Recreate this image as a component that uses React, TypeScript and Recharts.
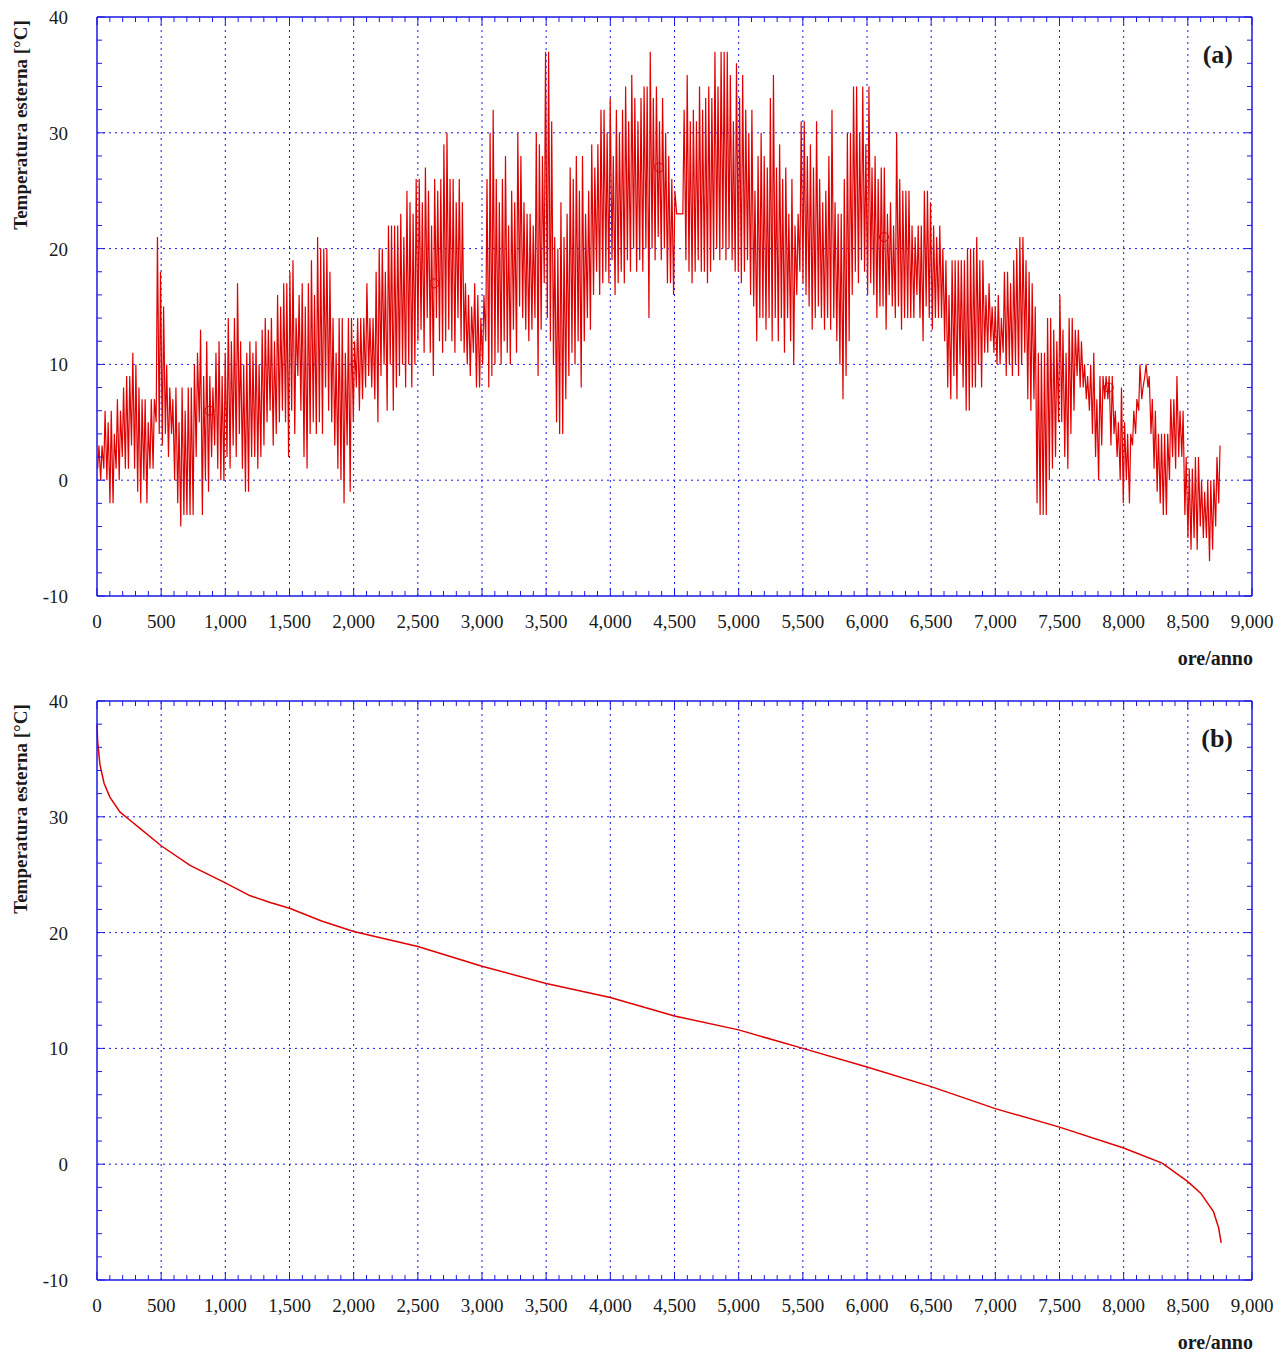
import { ComposedChart, Line, Scatter, XAxis, YAxis, ReferenceLine } from 'recharts';

const BLUE = '#1a1ae6';
const RED = '#e00000';
const SERIF = "'Liberation Serif', 'Times New Roman', serif";
const INK = '#1a1a1a';

// daily max / min outdoor temperature (°C)
const janMax = [3, 3, 6, 5, 6, 4, 7, 6, 8, 9, 9, 11, 10, 8, 7, 7, 5, 7, 7, 21, 18, 15, 10, 8, 7, 8, 5, 8, 6, 8, 8];
const janMin = [1, 0, 1, 0, -2, -2, 1, 0, 2, 1, 1, 3, 1, -1, -2, 0, -2, 1, 1, 5, 4, 3, 4, 2, 4, 0, -2, -4, -3, -3, -3];
const febMax = [10, 11, 13, 9, 12, 9, 8, 11, 12, 9, 11, 14, 12, 14, 17, 12, 10, 11, 12, 11, 12, 10, 13, 14, 13, 14, 12, 16];
const febMin = [-3, 2, 5, -3, 0, -1, 2, 3, 1, 0, 0, 2, 1, 3, 2, 4, 1, -1, -1, 2, 2, 1, 2, 3, 5, 6, 3, 4];
const marMax = [15, 17, 17, 18, 19, 14, 16, 17, 15, 17, 19, 16, 21, 20, 20, 20, 18, 14, 11, 14, 14, 11, 14, 14, 12, 14, 14, 14, 17, 14, 14];
const marMin = [5, 6, 5, 2, 6, 4, 9, 6, 2, 1, 4, 5, 4, 5, 4, 8, 6, 5, 3, 1, 0, -2, 3, -1, 5, 8, 6, 7, 8, 9, 8];
const aprMax = [18, 20, 20, 18, 22, 22, 22, 22, 23, 21, 25, 24, 23, 26, 26, 24, 27, 25, 22, 26, 25, 26, 29, 30, 26, 26, 24, 26, 24, 17];
const aprMin = [7, 5, 9, 10, 6, 10, 6, 8, 9, 10, 8, 10, 8, 10, 12, 13, 11, 14, 11, 9, 14, 12, 11, 12, 13, 12, 11, 14, 12, 11];
const mayMax = [16, 15, 17, 16, 14, 16, 26, 30, 32, 26, 24, 26, 28, 22, 25, 24, 30, 28, 24, 23, 23, 22, 30, 29, 28, 37, 37, 31, 21, 20, 24];
const mayMin = [10, 9, 11, 8, 8, 10, 12, 8, 9, 10, 11, 10, 12, 11, 10, 13, 11, 15, 14, 13, 12, 13, 14, 9, 13, 17, 14, 12, 10, 5, 4];
const junMax = [21, 23, 27, 26, 28, 25, 28, 23, 25, 29, 27, 29, 32, 32, 30, 33, 28, 32, 30, 32, 34, 31, 35, 33, 31, 33, 34, 34, 37, 33];
const junMin = [4, 7, 9, 11, 10, 12, 8, 12, 14, 13, 16, 18, 16, 17, 18, 17, 19, 16, 17, 18, 17, 19, 18, 20, 18, 19, 18, 20, 14, 20];
const julMax = [34, 31, 33, 30, 28, 26, 25, 23, 23, 32, 35, 31, 32, 31, 34, 32, 33, 34, 33, 37, 34, 37, 37, 37, 35, 31, 36, 33, 35, 32, 30];
const julMin = [19, 21, 19, 20, 17, 17, 16, 23, 23, 23, 19, 18, 17, 18, 19, 18, 18, 17, 18, 19, 20, 19, 20, 19, 20, 19, 18, 18, 17, 18, 19];
const augMax = [32, 25, 28, 30, 28, 27, 33, 35, 27, 29, 26, 27, 23, 26, 22, 23, 31, 31, 28, 29, 27, 31, 26, 24, 25, 28, 32, 24, 23, 23, 26];
const augMin = [16, 15, 12, 14, 14, 13, 14, 12, 14, 12, 14, 11, 14, 12, 10, 16, 18, 17, 16, 15, 13, 14, 15, 14, 13, 14, 13, 14, 12, 10, 7];
const sepMax = [30, 30, 34, 34, 30, 34, 29, 34, 27, 28, 26, 27, 27, 23, 24, 22, 30, 26, 25, 25, 25, 22, 21, 22, 22, 25, 25, 24, 22, 21];
const sepMin = [9, 12, 16, 18, 17, 19, 18, 16, 17, 16, 14, 15, 15, 13, 16, 15, 14, 15, 13, 14, 14, 14, 14, 16, 14, 12, 15, 14, 13, 14];
const octMax = [22, 20, 19, 16, 19, 19, 19, 19, 19, 20, 20, 20, 21, 19, 19, 16, 17, 15, 15, 16, 14, 18, 18, 17, 19, 20, 21, 21, 19, 18, 17];
const octMin = [14, 14, 12, 8, 7, 9, 7, 10, 8, 6, 6, 8, 8, 10, 8, 11, 11, 12, 11, 10, 10, 11, 9, 10, 9, 10, 9, 10, 11, 7, 6];
const novMax = [15, 11, 11, 11, 14, 14, 13, 12, 16, 13, 11, 14, 14, 13, 13, 12, 10, 9, 10, 11, 7, 9, 9, 9, 9, 9, 6, 5, 8, 5];
const novMin = [7, -2, -3, -3, -3, 0, 1, 2, 5, 5, 2, 1, 4, 6, 9, 8, 8, 7, 6, 4, 2, 0, 3, 7, 7, 3, 4, 2, 0, -2];
const decMax = [4, 4, 6, 7, 10, 8, 10, 9, 7, 6, 4, 4, 4, 4, 7, 7, 9, 6, 6, 2, 1, 1, 2, 2, 0, -1, 0, 0, 0, 2, 3];
const decMin = [0, -2, 3, 4, 6, 7, 9, 8, 4, 1, -1, -2, -3, -3, 0, 2, 1, 2, 2, -3, -5, -6, -5, -6, -4, -5, -5, -7, -6, -4, -2];

// circle markers on panel (a)
const markerHours = [876, 2628, 4380, 6132, 7884];
const markerTemps = [6, 17, 27, 21, 8];

// duration curve, panel (b)
const durationHours = [0, 5, 23, 55, 100, 180, 257, 335, 500, 725, 1000, 1190, 1350, 1500, 1750, 2000, 2500, 3000, 3500, 4000, 4500, 5000, 5500, 6000, 6500, 7000, 7500, 8000, 8300, 8500, 8600, 8700, 8740, 8760];
const durationTemps = [38, 36.5, 34.5, 32.9, 31.7, 30.4, 29.7, 29, 27.5, 25.8, 24.3, 23.2, 22.6, 22.1, 21, 20.1, 18.8, 17.1, 15.6, 14.4, 12.8, 11.6, 10, 8.4, 6.7, 4.8, 3.2, 1.4, 0.1, -1.5, -2.5, -4.1, -5.5, -6.8];

const xGrid = [500, 1000, 1500, 2000, 2500, 3000, 3500, 4000, 4500, 5000, 5500, 6000, 6500, 7000, 7500, 8000, 8500];
const yGrid = [0, 10, 20, 30];
const xTicks = Array.from({ length: 91 }, (_, i) => i * 100);
const yTicks = Array.from({ length: 26 }, (_, i) => -10 + i * 2);

const dailyMax = [...janMax, ...febMax, ...marMax, ...aprMax, ...mayMax, ...junMax, ...julMax, ...augMax, ...sepMax, ...octMax, ...novMax, ...decMax];
const dailyMin = [...janMin, ...febMin, ...marMin, ...aprMin, ...mayMin, ...junMin, ...julMin, ...augMin, ...sepMin, ...octMin, ...novMin, ...decMin];

// min around 5h, max around 15h of every day
const hourly = dailyMax.flatMap((hi, d) => [
  { h: d * 24 + 5, t: dailyMin[d] },
  { h: d * 24 + 15, t: hi },
]);
const markers = markerHours.map((h, i) => ({ h, t: markerTemps[i] }));
const duration = durationHours.map((h, i) => ({ h, t: durationTemps[i] }));

const W = 1279;
const H = 684;

function BottomTick({ x, y, payload }: any) {
  const major = payload.value % 500 === 0;
  return (
    <g>
      <line x1={x} x2={x} y1={y} y2={y - (major ? 8 : 5)} stroke={BLUE} />
      {major && (
        <text x={x} y={y + 32} textAnchor="middle" fontSize={19} fontFamily={SERIF} fill={INK}>
          {payload.value.toLocaleString('en-US')}
        </text>
      )}
    </g>
  );
}

function TopTick({ x, y, payload }: any) {
  const major = payload.value % 500 === 0;
  return <line x1={x} x2={x} y1={y} y2={y + (major ? 8 : 5)} stroke={BLUE} />;
}

function LeftTick({ x, y, payload }: any) {
  const major = payload.value % 10 === 0;
  return (
    <g>
      <line x1={x} x2={x + (major ? 8 : 5)} y1={y} y2={y} stroke={BLUE} />
      {major && (
        <text x={x - 29} y={y + 7} textAnchor="end" fontSize={19} fontFamily={SERIF} fill={INK}>
          {String(payload.value)}
        </text>
      )}
    </g>
  );
}

function RightTick({ x, y, payload }: any) {
  const major = payload.value % 10 === 0;
  return <line x1={x} x2={x - (major ? 8 : 5)} y1={y} y2={y} stroke={BLUE} />;
}

function frame() {
  const axisLine = { stroke: BLUE, strokeWidth: 1.5 };
  return [
    <XAxis key="xb" dataKey="h" type="number" domain={[0, 9000]} ticks={xTicks} interval={0}
      tick={BottomTick} tickLine={false} tickSize={0} tickMargin={0} height={72} axisLine={axisLine} />,
    <XAxis key="xt" xAxisId="top" dataKey="h" orientation="top" type="number" domain={[0, 9000]} ticks={xTicks} interval={0}
      tick={TopTick} tickLine={false} tickSize={0} tickMargin={0} height={1} axisLine={axisLine} />,
    <YAxis key="yl" dataKey="t" type="number" domain={[-10, 40]} ticks={yTicks} interval={0}
      tick={LeftTick} tickLine={false} tickSize={0} tickMargin={0} width={89} axisLine={axisLine} />,
    <YAxis key="yr" yAxisId="right" dataKey="t" orientation="right" type="number" domain={[-10, 40]} ticks={yTicks} interval={0}
      tick={RightTick} tickLine={false} tickSize={0} tickMargin={0} width={1} axisLine={axisLine} />,
    ...xGrid.map((v) => (
      <ReferenceLine key={`gx${v}`} x={v} stroke={BLUE} strokeDasharray="2 4" />
    )),
    ...yGrid.map((v) => (
      <ReferenceLine key={`gy${v}`} y={v} stroke={BLUE} strokeDasharray="2 4" />
    )),
    // invisible series so the top and right axes get drawn
    <Line key="ghost" xAxisId="top" yAxisId="right" dataKey="t" stroke="none" dot={false}
      activeDot={false} legendType="none" isAnimationActive={false} />,
  ];
}

function Titles({ tag }: { tag: string }) {
  return (
    <>
      <div
        style={{
          position: 'absolute', left: 12, top: 116.5, transform: 'translate(-50%, -50%) rotate(-90deg)',
          whiteSpace: 'nowrap', fontFamily: SERIF, fontWeight: 'bold', fontSize: 19, lineHeight: '19px', color: INK,
        }}
      >
        Temperatura esterna [°C]
      </div>
      <div
        style={{
          position: 'absolute', right: 34, top: 640, fontFamily: SERIF, fontWeight: 'bold',
          fontSize: 20, lineHeight: '20px', color: INK,
        }}
      >
        ore/anno
      </div>
      <div
        style={{
          position: 'absolute', right: 54, top: 34, fontFamily: SERIF, fontWeight: 'bold',
          fontSize: 26, lineHeight: '26px', color: INK,
        }}
      >
        {tag}
      </div>
    </>
  );
}

const margin = { top: 8, right: 34, bottom: 24, left: 0 };

export default function App() {
  return (
    <div style={{ width: W, background: '#fff' }}>
      <div style={{ position: 'relative', width: W, height: H }}>
        <ComposedChart width={W} height={H} data={hourly} margin={margin}>
          {frame()}
          <Line dataKey="t" type="linear" stroke={RED} strokeWidth={1.2} dot={false} isAnimationActive={false} />
          <Scatter data={markers} dataKey="t" fill="none" stroke={RED} strokeWidth={1} isAnimationActive={false} />
        </ComposedChart>
        <Titles tag="(a)" />
      </div>
      <div style={{ position: 'relative', width: W, height: H }}>
        <ComposedChart width={W} height={H} data={duration} margin={margin}>
          {frame()}
          <Line dataKey="t" type="linear" stroke={RED} strokeWidth={1.5} dot={false} isAnimationActive={false} />
        </ComposedChart>
        <Titles tag="(b)" />
      </div>
    </div>
  );
}
